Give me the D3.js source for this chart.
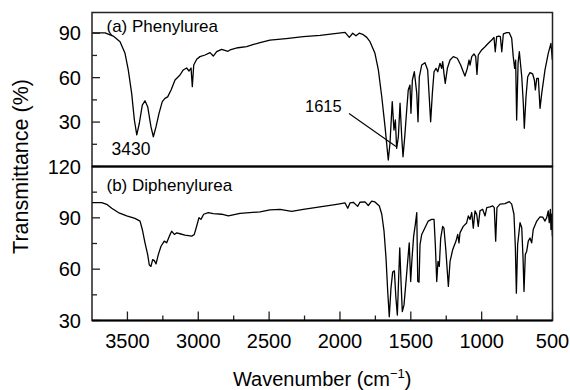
<!DOCTYPE html>
<html><head><meta charset="utf-8">
<script src="https://cdn.jsdelivr.net/npm/d3@7"></script>
<style>html,body{margin:0;padding:0;background:#fff}svg{display:block}text{font-family:"Liberation Sans",Arial,sans-serif;fill:#000}</style>
</head><body>
<svg id="c" width="570" height="390"></svg>
<script>
// ---- data ----
const wnA = [3750,3658,3600,3552,3517,3494,3470,3451,3434,3416,3395,3376,3357,3334,3317,3298,3277,3254,3235,3216,3192,3164,3129,3106,3082,3065,3051,3042,3032,3011,2988,2952,2917,2894,2870,2835,2790,2776,2720,2658,2610,2564,2494,2380,2259,2140,2023,1964,1934,1910,1887,1864,1840,1811,1788,1753,1729,1705,1682,1659,1647,1631,1619,1609,1600,1588,1576,1564,1555,1543,1529,1518,1506,1499,1489,1475,1458,1449,1440,1423,1400,1381,1370,1360,1348,1336,1322,1310,1294,1282,1275,1266,1257,1242,1223,1200,1172,1148,1130,1118,1101,1089,1082,1070,1054,1042,1033,1024,1000,976,953,929,913,904,894,878,868,858,847,823,805,788,777,767,760,753,743,734,717,706,699,687,675,659,640,628,621,611,600,588,576,553,530,511,501];
const tA  = [90.3,90.3,88.1,84.3,76.4,65.2,49.4,31.4,21.3,29.2,41.5,44.4,40.4,26.9,20.1,26.9,35.9,43.8,46,47,51.7,58.4,61.8,65.2,66.5,64.5,66.5,53.9,68.5,72.4,74.2,75.3,76.9,74.6,77.6,79.1,77.8,78.7,80.2,80.9,82.4,83.6,85.4,86.4,87.7,88.6,89.9,90.6,87.2,90,88.3,90,89.3,87.2,84.3,76.4,65.2,47.1,26.9,4.4,15.7,43.8,24.6,31.4,12.3,19.8,42.7,19.8,6.6,19.8,38.2,51.7,55,35.9,58.4,64,49.4,30.2,60.6,68.5,70.1,65.2,47.1,30.2,49.4,64,66.3,64,69.7,66.3,70.8,62.9,56.1,66.3,71.9,74.2,73.1,68.5,64,61.1,66.3,71.9,68.5,74.2,76,74.2,62.2,75.3,78.7,80.9,83.2,85.4,87.2,77.5,87.7,88.1,87.7,77.5,89.5,90.4,90.4,86.6,74.2,66.3,71.9,31.4,69.7,77.5,60.6,42.7,25.8,47.1,60.6,63.4,62.5,58.4,51.7,59.5,59.5,39.3,49.4,65.2,76.4,83.2,71.9];
const wnB = [3750,3682,3646,3611,3564,3505,3447,3411,3395,3376,3357,3346,3334,3322,3310,3298,3282,3263,3240,3223,3204,3188,3169,3152,3129,3094,3046,3028,3011,2995,2981,2962,2929,2894,2835,2788,2705,2564,2494,2423,2341,2259,2141,2023,1964,1945,1929,1906,1875,1859,1823,1800,1776,1753,1722,1705,1689,1675,1663,1652,1640,1628,1616,1605,1595,1585,1578,1569,1560,1548,1534,1520,1511,1501,1492,1480,1468,1458,1451,1442,1435,1423,1400,1377,1353,1336,1327,1317,1308,1299,1289,1275,1266,1252,1235,1223,1204,1181,1169,1160,1153,1130,1106,1094,1082,1070,1059,1047,1035,1024,1012,993,976,964,941,922,911,901,892,870,835,805,788,772,762,755,746,729,717,708,701,692,682,671,659,647,636,611,588,569,553,541,530,523,515,511,506,501];
const tB  = [98.9,98.9,97.9,95.6,93.1,91.1,89.7,88.1,83.2,75.4,68.5,62.6,61.6,65.6,65,63.1,68.5,73.4,76.4,75.4,79.3,82.2,80.3,81.2,80.7,79.9,79.3,80.3,85.2,90.1,89.1,92.1,93.1,92.5,92.1,91.1,92.6,93.5,94.6,94.9,93.8,94.9,96.4,97.9,98.7,95.6,98.7,99.1,96.7,99.1,99.3,97.2,99.8,99.3,96.9,92.1,82.2,66.6,46.9,32.2,48.9,58.3,59,43.1,33.2,56.6,72.5,52.7,35.2,39.1,52.7,66.6,75.4,52.8,65.6,79.3,86.2,93.1,52.8,52.4,74.4,80.3,84.2,88.1,89.1,89.1,74.4,52.8,64.6,61.6,78.2,85,84,70.3,49.9,64.6,71.5,76.4,80.3,75.4,81.2,85,87,91.1,89.1,93.1,84,94.1,92.1,85,94.1,95,91.1,96,96.4,97,96,76.4,96,98,98.3,99.5,98,92.1,72.5,46,74.4,87.2,84.2,66.6,46.9,68.5,70.5,76.4,78.2,75.4,83.2,88.1,90.6,90.4,88.1,90.1,94.1,87.2,95,83.2,92.1,79.3];
const xTicks = [3500,3000,2500,2000,1500,1000,500];
const xMinor = [3250,2750,2250,1750,1250,750];
const yTicksA = [30,60,90];
const yMinorA = [15,45,75];
const yTicksB = [30,60,90,120];
const yMinorB = [45,75,105];
const labelA = "(a) Phenylurea";
const labelB = "(b) Diphenylurea";
const peakA1 = "3430", peakA2 = "1615";

// ---- layout ----
const svg = d3.select("#c");
const L = 92, R = 552.5, T = 12.5, M = 166.5, B = 320.5;
const x = d3.scaleLinear().domain([3750,500]).range([L,R]);
const yA = d3.scaleLinear().domain([0,104]).range([M,T]);
const yB = d3.scaleLinear().domain([30,120]).range([B,M]);

svg.append("defs").append("clipPath").attr("id","clipA").append("rect").attr("x",L).attr("y",T).attr("width",R-L).attr("height",M-T);
svg.select("defs").append("clipPath").attr("id","clipB").append("rect").attr("x",L).attr("y",M).attr("width",R-L).attr("height",B-M);

function spectrum(wn, tv, y, clip){
  const pts = wn.map((w,i)=>[w,tv[i]]);
  svg.append("path").datum(pts)
    .attr("clip-path","url(#"+clip+")")
    .attr("fill","none").attr("stroke","#000").attr("stroke-width",1.3).attr("stroke-linejoin","round")
    .attr("d", d3.line().x(d=>x(d[0])).y(d=>y(d[1])));
}
spectrum(wnA,tA,yA,"clipA");
spectrum(wnB,tB,yB,"clipB");

// y axes (ticks inward)
function yAxis(y, major, minor){
  const g = svg.append("g");
  g.selectAll("line.mj").data(major).join("line").attr("x1",L).attr("x2",L+8).attr("y1",d=>y(d)).attr("y2",d=>y(d)).attr("stroke","#222").attr("stroke-width",1.3);
  g.selectAll("line.mn").data(minor).join("line").attr("x1",L).attr("x2",L+5).attr("y1",d=>y(d)).attr("y2",d=>y(d)).attr("stroke","#222").attr("stroke-width",1.3);
  g.selectAll("text").data(major).join("text").attr("x",81).attr("y",d=>y(d)).attr("dy","0.36em").attr("text-anchor","end").attr("font-size",20).text(d=>d);
}
yAxis(yA,yTicksA,yMinorA);
yAxis(yB,yTicksB,yMinorB);

// x axis
const gx = svg.append("g");
gx.selectAll("line.mj").data(xTicks).join("line").attr("x1",d=>x(d)).attr("x2",d=>x(d)).attr("y1",B).attr("y2",B-9).attr("stroke","#222").attr("stroke-width",1.3);
gx.selectAll("line.mn").data(xMinor).join("line").attr("x1",d=>x(d)).attr("x2",d=>x(d)).attr("y1",B).attr("y2",B-5).attr("stroke","#222").attr("stroke-width",1.3);
gx.selectAll("text").data(xTicks).join("text").attr("x",d=>x(d)).attr("y",348).attr("text-anchor","middle").attr("font-size",20).text(d=>d);

// frames
svg.append("rect").attr("x",L).attr("y",T).attr("width",R-L).attr("height",M-T).attr("fill","none").attr("stroke","#222").attr("stroke-width",1.5);
svg.append("rect").attr("x",L).attr("y",M).attr("width",R-L).attr("height",B-M).attr("fill","none").attr("stroke","#222").attr("stroke-width",1.5);
svg.append("line").attr("x1",L).attr("x2",R).attr("y1",M).attr("y2",M).attr("stroke","#000").attr("stroke-width",2);
svg.append("line").attr("x1",L).attr("x2",R).attr("y1",B).attr("y2",B).attr("stroke","#000").attr("stroke-width",2);

// labels
svg.append("text").attr("x",106.5).attr("y",31.5).attr("font-size",17).text(labelA);
svg.append("text").attr("x",106.5).attr("y",190.5).attr("font-size",17).text(labelB);
svg.append("text").attr("x",111.5).attr("y",155).attr("font-size",17.5).text(peakA1);
svg.append("text").attr("x",305).attr("y",111.5).attr("font-size",16.5).text(peakA2);
svg.append("line").attr("x1",349).attr("y1",113.5).attr("x2",396).attr("y2",146.5).attr("stroke","#000").attr("stroke-width",1.1);

// axis titles
svg.append("text").attr("transform","translate(28,"+((T+B)/2)+") rotate(-90)").attr("text-anchor","middle").attr("font-size",21.5).text("Transmittance (%)");
const xt = svg.append("text").attr("x",(L+R)/2).attr("y",386).attr("text-anchor","middle").attr("font-size",20);
xt.append("tspan").text("Wavenumber (cm");
xt.append("tspan").attr("font-size",13).attr("dy",-8).text("\u22121");
xt.append("tspan").attr("dy",8).text(")");
</script>
</body></html>
